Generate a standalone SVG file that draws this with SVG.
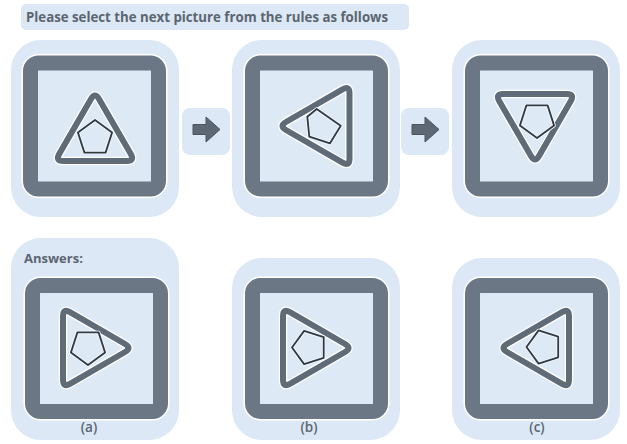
<svg xmlns="http://www.w3.org/2000/svg" width="627" height="444" viewBox="0 0 627 444">
<style>
.bg{fill:#dce8f5}
.panel{fill:#dce8f5}
.halo{fill:none;stroke:#ffffff;stroke-width:18}
.frame{fill:#dde9f5;stroke:#6b7784;stroke-width:15}
.triH{fill:none;stroke:#ffffff;stroke-width:8.5;stroke-linejoin:round}
.tri{fill:none;stroke:#5f6b77;stroke-width:6;stroke-linejoin:round}
.penH{fill:none;stroke:#f4f8fc;stroke-width:3.5;stroke-linejoin:round}
.pen{fill:none;stroke:#2f3a45;stroke-width:1.8;stroke-linejoin:round}
.arrowbox{fill:#dce8f5}
.arrow{fill:#5d6874;stroke:#4a545f;stroke-width:1;stroke-linejoin:round}
.t{font-family:"Open Sans","DejaVu Sans",sans-serif;font-weight:700;fill:#5b6570}
.lbl{font-family:"Open Sans","DejaVu Sans",sans-serif;font-weight:600;fill:#5b6570;font-size:13.5px}
</style>
<rect width="627" height="444" fill="#ffffff"/>
<g id="title">
<rect x="21" y="4" width="388" height="26" rx="5" class="bg"/>
<text x="26" y="22" class="t" font-size="14" textLength="362" lengthAdjust="spacingAndGlyphs">Please select the next picture from the rules as follows</text>
</g>
<g id="connectors">
<rect x="182" y="108" width="48" height="47" rx="8" class="arrowbox"/>
<polygon class="arrow" points="193,124.5 206,124.5 206,117 220,129.5 206,142 206,134.5 193,134.5"/>
<rect x="401" y="108" width="48" height="47" rx="8" class="arrowbox"/>
<polygon class="arrow" points="412,124.5 425,124.5 425,117 439,129.5 425,142 425,134.5 412,134.5"/>
</g>
<g id="panel1">
<rect x="11" y="40" width="168" height="177" rx="30" class="panel"/>
<rect x="30.5" y="63" width="128" height="126" rx="8" class="halo"/>
<rect x="30.5" y="63" width="128" height="126" rx="8" class="frame"/>
<path class="triH" d="M91,98.93 L59.2,154.07 Q55.2,161 63.2,161 L126.8,161 Q134.8,161 130.8,154.07 L99,98.93 Q95,92 91,98.93Z"/>
<path class="tri" d="M91,98.93 L59.2,154.07 Q55.2,161 63.2,161 L126.8,161 Q134.8,161 130.8,154.07 L99,98.93 Q95,92 91,98.93Z"/>
<polygon class="penH" points="95,120 112.1,132.4 105.6,152.6 84.4,152.6 77.9,132.4"/>
<polygon class="pen" points="95,120 112.1,132.4 105.6,152.6 84.4,152.6 77.9,132.4"/>
</g>
<g id="panel2">
<rect x="232" y="40" width="168" height="177" rx="30" class="panel"/>
<rect x="252.5" y="63" width="128" height="126" rx="8" class="halo"/>
<rect x="252.5" y="63" width="128" height="126" rx="8" class="frame"/>
<path class="triH" d="M285.93,122 L342.57,89.3 Q349.5,85.3 349.5,93.3 L349.5,158.7 Q349.5,166.7 342.57,162.7 L285.93,130 Q279,126 285.93,122Z"/>
<path class="tri" d="M285.93,122 L342.57,89.3 Q349.5,85.3 349.5,93.3 L349.5,158.7 Q349.5,166.7 342.57,162.7 L285.93,130 Q279,126 285.93,122Z"/>
<polygon class="penH" points="316.7,109 340.7,125.7 330,143.3 309.3,136.7 307.3,116.7"/>
<polygon class="pen" points="316.7,109 340.7,125.7 330,143.3 309.3,136.7 307.3,116.7"/>
</g>
<g id="panel3">
<rect x="452" y="40" width="168" height="177" rx="30" class="panel"/>
<rect x="472.5" y="63" width="128" height="126" rx="8" class="halo"/>
<rect x="472.5" y="63" width="128" height="126" rx="8" class="frame"/>
<path class="triH" d="M503.2,94 L566.8,94 Q574.8,94 570.8,100.93 L539,156.07 Q535,163 531,156.07 L499.2,100.93 Q495.2,94 503.2,94Z"/>
<path class="tri" d="M503.2,94 L566.8,94 Q574.8,94 570.8,100.93 L539,156.07 Q535,163 531,156.07 L499.2,100.93 Q495.2,94 503.2,94Z"/>
<polygon class="penH" points="537,138 519.9,125.6 526.4,105.4 547.6,105.4 554.1,125.6"/>
<polygon class="pen" points="537,138 519.9,125.6 526.4,105.4 547.6,105.4 554.1,125.6"/>
</g>
<g id="answer-a">
<rect x="11" y="238" width="168" height="202" rx="30" class="panel"/>
<text x="24" y="263" class="t" font-size="13">Answers:</text>
<rect x="32.5" y="285.5" width="128" height="126" rx="8" class="halo"/>
<rect x="32.5" y="285.5" width="128" height="126" rx="8" class="frame"/>
<path class="triH" d="M125.07,344 L69.93,312.2 Q63,308.2 63,316.2 L63,379.8 Q63,387.8 69.93,383.8 L125.07,352 Q132,348 125.07,344Z"/>
<path class="tri" d="M125.07,344 L69.93,312.2 Q63,308.2 63,316.2 L63,379.8 Q63,387.8 69.93,383.8 L125.07,352 Q132,348 125.07,344Z"/>
<polygon class="penH" points="88,365 70.9,352.6 77.4,332.4 98.6,332.4 105.1,352.6"/>
<polygon class="pen" points="88,365 70.9,352.6 77.4,332.4 98.6,332.4 105.1,352.6"/>
<text x="89" y="432" class="lbl" text-anchor="middle">(a)</text>
</g>
<g id="answer-b">
<rect x="232" y="258" width="168" height="182" rx="30" class="panel"/>
<rect x="252.5" y="285.5" width="128" height="126" rx="8" class="halo"/>
<rect x="252.5" y="285.5" width="128" height="126" rx="8" class="frame"/>
<path class="triH" d="M345.07,344 L289.93,312.2 Q283,308.2 283,316.2 L283,379.8 Q283,387.8 289.93,383.8 L345.07,352 Q352,348 345.07,344Z"/>
<path class="tri" d="M345.07,344 L289.93,312.2 Q283,308.2 283,316.2 L283,379.8 Q283,387.8 289.93,383.8 L345.07,352 Q352,348 345.07,344Z"/>
<polygon class="penH" points="292,347.5 304.1,330.9 323.7,337.2 323.7,357.8 304.1,364.1"/>
<polygon class="pen" points="292,347.5 304.1,330.9 323.7,337.2 323.7,357.8 304.1,364.1"/>
<text x="309" y="432" class="lbl" text-anchor="middle">(b)</text>
</g>
<g id="answer-c">
<rect x="452" y="258" width="168" height="182" rx="30" class="panel"/>
<rect x="472.5" y="285.5" width="128" height="126" rx="8" class="halo"/>
<rect x="472.5" y="285.5" width="128" height="126" rx="8" class="frame"/>
<path class="triH" d="M506.93,344 L562.07,312.2 Q569,308.2 569,316.2 L569,379.8 Q569,387.8 562.07,383.8 L506.93,352 Q500,348 506.93,344Z"/>
<path class="tri" d="M506.93,344 L562.07,312.2 Q569,308.2 569,316.2 L569,379.8 Q569,387.8 562.07,383.8 L506.93,352 Q500,348 506.93,344Z"/>
<polygon class="penH" points="526.5,347 538.6,330.4 558.2,336.7 558.2,357.3 538.6,363.6"/>
<polygon class="pen" points="526.5,347 538.6,330.4 558.2,336.7 558.2,357.3 538.6,363.6"/>
<text x="537" y="432" class="lbl" text-anchor="middle">(c)</text>
</g>
</svg>
